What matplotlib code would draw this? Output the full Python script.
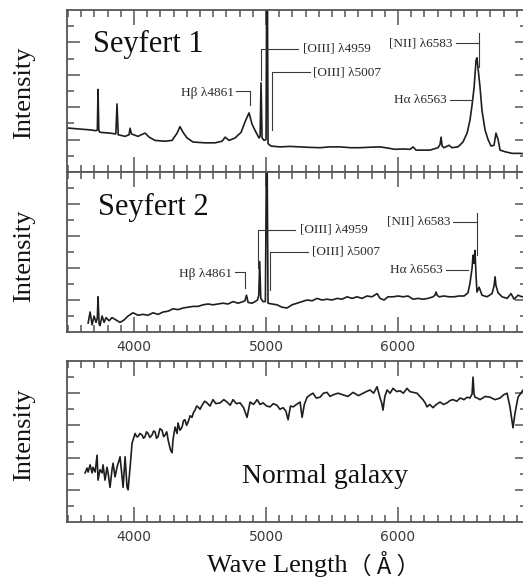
import matplotlib
matplotlib.use('Agg')
import matplotlib.pyplot as plt
from matplotlib.ticker import FixedLocator, MultipleLocator

# Seyfert 1 spectrum: wavelength (Angstrom) and relative intensity
sy1_wave = [3492, 3591, 3667, 3712, 3722, 3727, 3733, 3742, 3818, 3862, 3871, 3880,
            3932, 3962, 3970, 3980, 4030, 4068, 4083, 4091, 4114, 4159, 4235, 4288,
            4326, 4348, 4371, 4402, 4447, 4538, 4614, 4667, 4690, 4720, 4765, 4811,
            4841, 4871, 4894, 4924, 4947, 4955, 4962, 4970, 4985, 5000, 5005, 5010,
            5015, 5038, 5106, 5180, 5258, 5330, 5409, 5480, 5561, 5640, 5712, 5790,
            5864, 5920, 5977, 6040, 6091, 6114, 6136, 6242, 6303, 6318, 6326, 6334,
            6348, 6386, 6409, 6454, 6492, 6523, 6545, 6561, 6576, 6583, 6591, 6598,
            6606, 6621, 6636, 6659, 6682, 6705, 6727, 6742, 6758, 6773, 6811, 6864,
            6924, 6980]
sy1_flux = [2.72, 2.65, 2.6, 2.55, 2.6, 5.1, 2.55, 2.45, 2.4, 2.35, 4.2, 2.3,
            2.2, 2.3, 2.7, 2.35, 2.2, 2.35, 2.4, 2.35, 2.15, 1.95, 1.9, 1.95,
            2.4, 2.8, 2.45, 2.1, 1.85, 1.8, 1.8, 1.9, 2.15, 1.95, 2.1, 2.45,
            3.1, 3.65, 2.95, 2.45, 2.1, 2.2, 5.5, 2.1, 1.95, 2.0, 12, 12,
            1.75, 1.6, 1.55, 1.58, 1.55, 1.52, 1.5, 1.55, 1.55, 1.5, 1.5, 1.53,
            1.55, 1.48, 1.4, 1.42, 1.4, 1.55, 1.35, 1.35, 1.5, 1.7, 2.15, 1.6,
            1.5, 1.65, 1.5, 1.55, 1.85, 2.4, 3.2, 4.15, 5.2, 6.0, 6.9, 7.05,
            6.4, 5.25, 3.8, 2.6, 2.0, 1.6, 1.65, 2.4, 2.0, 1.35, 1.25, 1.15,
            1.15, 1.1]

# Seyfert 2 spectrum
sy2_wave = [3652, 3667, 3682, 3697, 3712, 3722, 3727, 3735, 3742, 3758, 3773, 3788,
            3811, 3833, 3864, 3894, 3924, 3955, 3992, 4030, 4068, 4106, 4144, 4182,
            4220, 4258, 4295, 4333, 4371, 4409, 4447, 4485, 4523, 4561, 4598, 4636,
            4674, 4712, 4750, 4788, 4826, 4840, 4852, 4864, 4894, 4917, 4935, 4945,
            4952, 4960, 4977, 4995, 5003, 5008, 5015, 5045, 5083, 5121, 5159, 5197,
            5235, 5273, 5311, 5349, 5386, 5424, 5462, 5500, 5538, 5576, 5614, 5652,
            5689, 5727, 5765, 5803, 5841, 5864, 5894, 5924, 5962, 6000, 6038, 6076,
            6114, 6152, 6189, 6227, 6265, 6280, 6288, 6296, 6311, 6348, 6386, 6424,
            6462, 6500, 6530, 6545, 6561, 6568, 6575, 6583, 6591, 6598, 6614, 6636,
            6674, 6712, 6728, 6735, 6742, 6758, 6788, 6826, 6856, 6879, 6909, 6939,
            6980]
sy2_flux = [0.56, 1.25, 0.45, 1.0, 0.6, 0.9, 2.2, 0.5, 0.4, 1.0, 0.6, 0.9,
            0.7, 0.9, 0.75, 0.6, 0.75, 1.0, 1.2, 1.05, 1.1, 1.05, 1.2, 1.1,
            1.25, 1.3, 1.45, 1.4, 1.5, 1.55, 1.6, 1.6, 1.7, 1.75, 1.7, 1.75,
            1.8, 1.75, 1.9, 1.8, 1.9, 1.95, 2.3, 1.85, 1.8, 1.9, 2.0, 2.3,
            4.4, 2.1, 1.9, 1.9, 11, 11, 1.8, 1.75, 1.7, 1.55, 1.5, 1.7,
            1.8, 1.9, 2.0, 1.95, 2.1, 2.0, 2.05, 2.0, 2.1, 2.05, 2.2, 2.1,
            2.2, 2.1, 2.25, 2.2, 2.4, 2.1, 2.0, 2.2, 2.2, 2.25, 2.2, 2.25,
            2.05, 2.1, 2.05, 2.1, 2.2, 2.3, 2.5, 2.3, 2.2, 2.25, 2.2, 2.2,
            2.25, 2.25, 2.45, 3.05, 4.0, 4.8, 4.3, 5.1, 3.5, 2.5, 2.8, 2.3,
            2.2, 2.4, 2.9, 3.45, 2.9, 2.45, 2.2, 2.1, 2.4, 2.05, 2.3, 2.2,
            2.25]

# normal galaxy spectrum
gal_wave = [3629, 3644, 3652, 3667, 3682, 3689, 3705, 3720, 3727, 3742, 3758, 3765,
            3780, 3795, 3803, 3818, 3833, 3841, 3856, 3871, 3894, 3909, 3917, 3932,
            3947, 3955, 3970, 3985, 4008, 4020, 4030, 4045, 4061, 4072, 4083, 4095,
            4106, 4120, 4136, 4148, 4159, 4170, 4182, 4196, 4212, 4224, 4235, 4248,
            4258, 4275, 4288, 4295, 4311, 4326, 4333, 4348, 4364, 4375, 4386, 4398,
            4409, 4425, 4439, 4450, 4462, 4475, 4485, 4500, 4515, 4535, 4553, 4575,
            4598, 4620, 4652, 4680, 4705, 4728, 4750, 4775, 4803, 4830, 4856, 4879,
            4905, 4932, 4955, 4977, 5005, 5030, 5055, 5083, 5105, 5129, 5150, 5167,
            5185, 5205, 5230, 5258, 5273, 5290, 5311, 5335, 5356, 5380, 5409, 5435,
            5462, 5485, 5508, 5545, 5583, 5620, 5659, 5700, 5735, 5760, 5788, 5815,
            5841, 5864, 5876, 5886, 5900, 5917, 5940, 5962, 5990, 6015, 6040, 6068,
            6090, 6114, 6144, 6165, 6189, 6205, 6220, 6240, 6265, 6290, 6318, 6345,
            6371, 6395, 6417, 6445, 6470, 6500, 6523, 6545, 6561, 6568, 6576, 6583,
            6600, 6621, 6660, 6697, 6735, 6773, 6800, 6826, 6848, 6871, 6886, 6909,
            6947, 6980]
gal_flux = [3.05, 3.35, 3.1, 3.55, 3.05, 3.4, 3.1, 4.15, 2.6, 3.25, 3.05, 3.55,
            2.6, 3.4, 3.05, 2.15, 3.25, 3.65, 2.8, 3.4, 4.05, 2.8, 2.15, 4.05,
            2.15, 2.0, 3.4, 4.9, 5.5, 5.3, 5.3, 5.5, 5.4, 5.2, 5.3, 5.6,
            5.5, 5.25, 5.4, 5.65, 5.6, 5.2, 5.3, 5.8, 5.7, 5.3, 5.4, 5.6,
            5.1, 4.5, 4.3, 5.1, 5.9, 5.5, 6.15, 5.7, 5.9, 6.3, 6.35, 6.0,
            6.2, 6.6, 6.5, 6.8, 6.95, 7.2, 7.15, 7.0, 7.25, 7.5, 7.4, 7.2,
            7.6, 7.35, 7.4, 7.6, 7.45, 7.25, 7.6, 7.35, 7.4, 7.1, 6.5, 7.45,
            7.3, 7.6, 7.3, 7.4, 7.2, 7.15, 7.35, 7.25, 7.0, 7.1, 6.9, 6.35,
            7.2, 7.15, 7.3, 7.45, 6.5, 7.3, 7.75, 7.9, 8.0, 7.7, 7.75, 8.0,
            8.05, 7.8, 7.9, 8.0, 7.9, 7.8, 8.05, 7.85, 8.0, 8.1, 8.2, 8.0,
            8.4, 7.7, 7.4, 6.95, 7.8, 8.2, 8.0, 8.3, 8.1, 8.15, 8.0, 8.3,
            8.1, 8.05, 8.0, 7.8, 7.6, 7.4, 7.15, 7.3, 7.1, 7.3, 7.45, 7.3,
            7.4, 7.55, 7.6, 7.5, 7.7, 7.6, 7.75, 7.7, 7.95, 9.0, 7.95, 7.75,
            7.7, 7.6, 7.8, 7.75, 7.6, 7.7, 7.9, 8.0, 7.15, 5.85, 6.75, 7.75,
            8.2, 8.05]

xticks = [4000, 5000, 6000]
xtick_labels = ['4000', '5000', '6000']

serif = 'Liberation Serif'
spine_col = '#555555'
line_col = '#1e1e1e'
text_col = '#2a2a2a'

fig = plt.figure(figsize=(5.23, 5.80), dpi=100)
left, width = 67 / 523, 460 / 523
ax1 = fig.add_axes([left, 1 - 172 / 580, width, 162 / 580])
ax2 = fig.add_axes([left, 1 - 332 / 580, width, 160 / 580])
ax3 = fig.add_axes([left, 1 - 522 / 580, width, 161 / 580])


def style_axis(ax, labels):
    ax.set_xlim(3492, 6977)
    ax.set_ylim(0, 10)
    ax.xaxis.set_major_locator(FixedLocator(xticks))
    ax.xaxis.set_minor_locator(MultipleLocator(100))
    ax.yaxis.set_major_locator(FixedLocator([2, 4, 6, 8]))
    ax.yaxis.set_minor_locator(FixedLocator([1, 3, 5, 7, 9]))
    ax.set_yticklabels([])
    if labels:
        ax.set_xticklabels(xtick_labels)
    else:
        ax.set_xticklabels([])
    ax.tick_params(which='both', direction='in', top=True, right=True,
                   color=spine_col, width=1.1, labelleft=False,
                   labelbottom=labels, labelsize=10, labelcolor='#3a3a3a', pad=6)
    ax.xaxis.set_tick_params(which='major', length=10.5)
    ax.xaxis.set_tick_params(which='minor', length=5)
    ax.yaxis.set_tick_params(which='major', length=9)
    ax.yaxis.set_tick_params(which='minor', length=5)
    for sp in ax.spines.values():
        sp.set_color(spine_col)
        sp.set_linewidth(1.3)


def leader(ax, xs, ys):
    ax.plot(xs, ys, color='#3a3a3a', lw=0.8)


def note(ax, x, y, s, ha):
    ax.text(x, y, s, ha=ha, va='center', fontsize=9.5, family=serif, color=text_col)


# Seyfert 1
ax1.plot(sy1_wave, sy1_flux, color=line_col, lw=1.2)
style_axis(ax1, False)
ax1.text(3690, 7.4, 'Seyfert 1', fontsize=22, family=serif, color='#111111', va='baseline')
leader(ax1, [4773, 4879, 4879], [5.0, 5.0, 4.14])
note(ax1, 4760, 4.85, 'Hβ λ4861', 'right')
leader(ax1, [5242, 4962, 4962], [7.6, 7.6, 5.7])
note(ax1, 5280, 7.6, '[OIII] λ4959', 'left')
leader(ax1, [5333, 5045, 5045], [6.17, 6.17, 2.6])
note(ax1, 5356, 6.17, '[OIII] λ5007', 'left')
leader(ax1, [6439, 6614], [7.96, 7.96])
leader(ax1, [6614, 6614], [8.58, 6.48])
note(ax1, 6409, 7.96, '[NII] λ6583', 'right')
leader(ax1, [6394, 6561], [4.44, 4.44])
note(ax1, 6371, 4.44, 'Hα λ6563', 'right')

# Seyfert 2
ax2.plot(sy2_wave, sy2_flux, color=line_col, lw=1.2)
style_axis(ax2, True)
ax2.text(3727, 7.3, 'Seyfert 2', fontsize=22, family=serif, color='#111111', va='baseline')
leader(ax2, [4765, 4841, 4841], [3.75, 3.75, 2.75])
note(ax2, 4742, 3.6, 'Hβ λ4861', 'right')
leader(ax2, [5220, 4939, 4939], [6.375, 6.375, 4.0])
note(ax2, 5258, 6.375, '[OIII] λ4959', 'left')
leader(ax2, [5318, 5030, 5030], [5.0, 5.0, 2.6])
note(ax2, 5348, 5.0, '[OIII] λ5007', 'left')
leader(ax2, [6417, 6598], [6.875, 6.875])
leader(ax2, [6598, 6598], [7.44, 4.8])
note(ax2, 6394, 6.875, '[NII] λ6583', 'right')
leader(ax2, [6364, 6530], [3.875, 3.875])
note(ax2, 6341, 3.875, 'Hα λ6563', 'right')

# normal galaxy
ax3.plot(gal_wave, gal_flux, color=line_col, lw=1.2)
style_axis(ax3, True)
ax3.text(5447, 2.42, 'Normal galaxy', fontsize=20, family=serif, color='#111111',
         ha='center', va='baseline')

for yc in (93, 256, 435):
    fig.text(24 / 523, 1 - yc / 580, 'Intensity', rotation=90, ha='center', va='center',
             fontsize=19, family=serif, color='#111111')

fig.text(348 / 523, 1 - 566 / 580, 'Wave Length', ha='right', va='center',
         fontsize=19, family=serif, color='#111111')
fig.text(348 / 523, 1 - 566 / 580, '（ Å ）', ha='left', va='center',
         fontsize=17, family=['Noto Sans CJK SC', 'DejaVu Sans'], color='#111111')

fig.savefig('out.png', dpi=100)
